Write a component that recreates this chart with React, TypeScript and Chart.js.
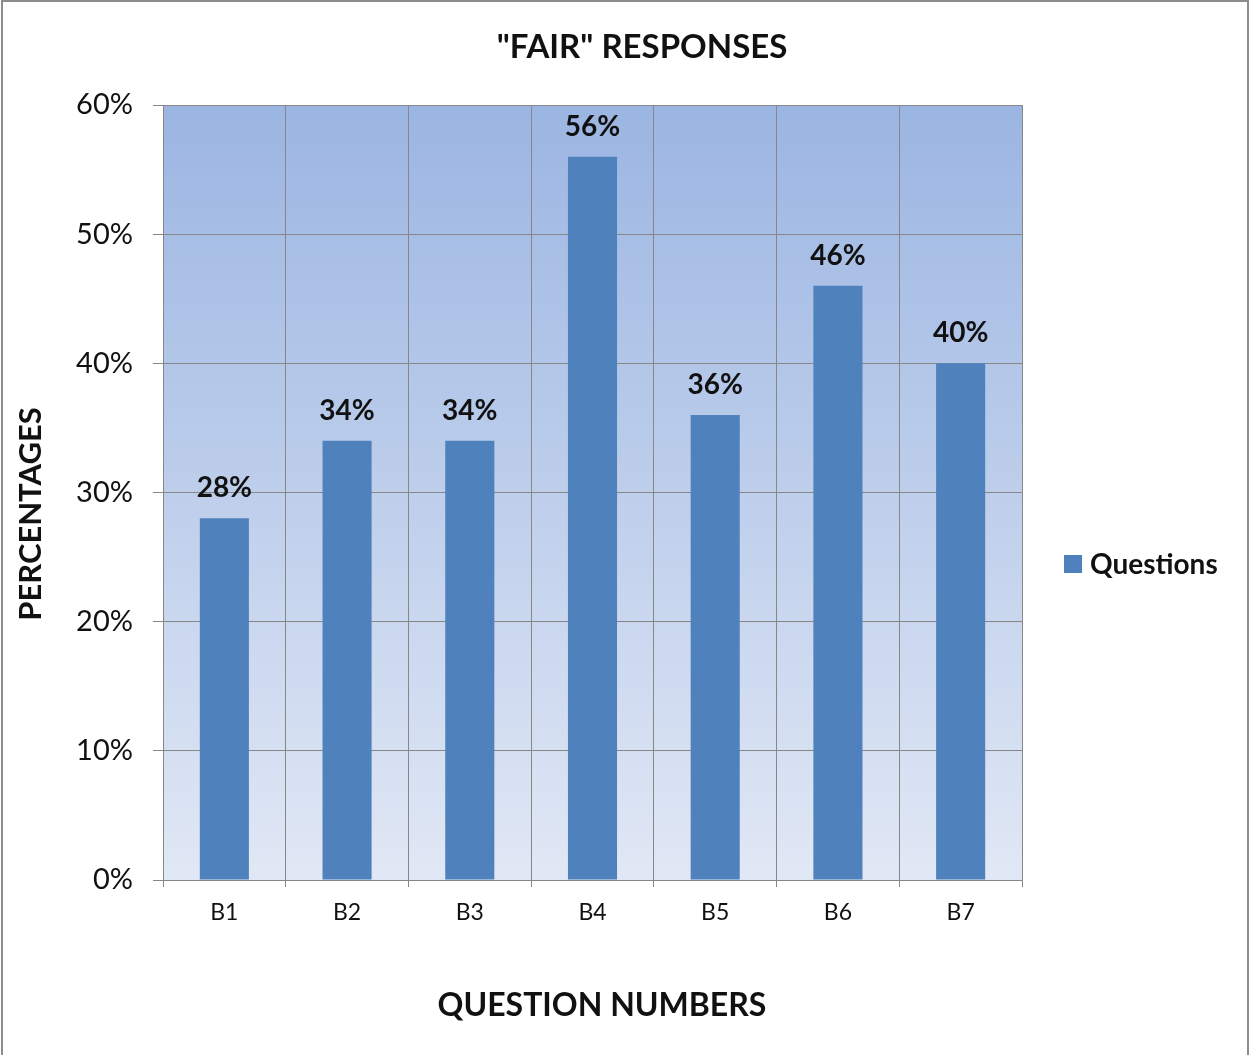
import React, { useEffect, useRef } from "react";
import { Chart, registerables } from "chart.js";

Chart.register(...registerables);

const categories = ["B1", "B2", "B3", "B4", "B5", "B6", "B7"];
const fairPercent = [28, 34, 34, 56, 36, 46, 40];
const seriesName = "Questions";
const chartTitle = '"FAIR" RESPONSES';
const xTitle = "QUESTION NUMBERS";
const yTitle = "PERCENTAGES";

const FONT = "Lato, 'Open Sans', sans-serif";
const BAR = "#4f81bd";
const GRID = "#878787";
const INK = "#111111";

// Gradient plot background, page frame, titles and legend
const decorPlugin = {
  id: "decor",
  beforeDraw(chart: any) {
    const { ctx, chartArea: a, width } = chart;
    ctx.save();
    ctx.fillStyle = "#ffffff";
    ctx.fillRect(0, 0, chart.width, chart.height);
    const g = ctx.createLinearGradient(0, a.top, 0, a.bottom);
    g.addColorStop(0, "#9bb5e2");
    g.addColorStop(1, "#e1e8f5");
    ctx.fillStyle = g;
    ctx.fillRect(a.left, a.top, a.right - a.left, a.bottom - a.top);
    // frame
    ctx.strokeStyle = "#8c8c8c";
    ctx.lineWidth = 2;
    ctx.beginPath();
    ctx.moveTo(2, chart.height);
    ctx.lineTo(2, 1);
    ctx.lineTo(width - 2, 1);
    ctx.lineTo(width - 2, chart.height);
    ctx.stroke();
    ctx.restore();
  },
  afterDraw(chart: any) {
    const { ctx } = chart;
    ctx.save();
    ctx.fillStyle = INK;
    ctx.textAlign = "center";
    ctx.textBaseline = "middle";
    ctx.font = `bold 33px ${FONT}`;
    ctx.fillText(chartTitle, 642, 47);
    ctx.font = `bold 32px ${FONT}`;
    ctx.fillText(xTitle, 602, 1006);
    ctx.save();
    ctx.translate(31, 514);
    ctx.rotate(-Math.PI / 2);
    ctx.font = `bold 31px ${FONT}`;
    ctx.fillText(yTitle, 0, 0);
    ctx.restore();
    // legend
    ctx.fillStyle = BAR;
    ctx.fillRect(1064, 555, 18, 18);
    ctx.fillStyle = INK;
    ctx.textAlign = "left";
    ctx.font = `bold 28px ${FONT}`;
    ctx.fillText(seriesName, 1090, 565);
    ctx.restore();
  },
  afterDatasetsDraw(chart: any) {
    const { ctx } = chart;
    const meta = chart.getDatasetMeta(0);
    const values = chart.data.datasets[0].data as number[];
    ctx.save();
    ctx.fillStyle = INK;
    ctx.textAlign = "center";
    ctx.textBaseline = "middle";
    ctx.font = `bold 28px ${FONT}`;
    meta.data.forEach((el: any, i: number) => {
      ctx.fillText(`${values[i]}%`, el.x, el.y - 30);
    });
    ctx.restore();
  },
};

export default function App() {
  const ref = useRef<HTMLCanvasElement>(null);

  useEffect(() => {
    if (!ref.current) return;
    const chart = new Chart(ref.current, {
      type: "bar",
      data: {
        labels: categories,
        datasets: [
          {
            label: seriesName,
            data: fairPercent,
            backgroundColor: BAR,
            borderWidth: 0,
            categoryPercentage: 1,
            barPercentage: 0.4,
          },
        ],
      },
      options: {
        responsive: false,
        animation: false,
        devicePixelRatio: 1,
        layout: { padding: { top: 105, right: 228, left: 0, bottom: 0 } },
        plugins: {
          legend: { display: false },
          title: { display: false },
          tooltip: { enabled: false },
        },
        scales: {
          x: {
            grid: { color: GRID, lineWidth: 1, tickLength: 7, offset: true },
            border: { display: true, color: GRID, width: 1 },
            ticks: { color: INK, font: { family: FONT, size: 23 }, padding: 12 },
            afterFit: (s: any) => {
              s.height = 175;
            },
          },
          y: {
            min: 0,
            max: 60,
            grid: { color: GRID, lineWidth: 1, tickLength: 10 },
            border: { display: true, color: GRID, width: 1 },
            ticks: {
              stepSize: 10,
              color: INK,
              font: { family: FONT, size: 29 },
              padding: 20,
              callback: (v: any) => `${v}%`,
            },
            afterFit: (s: any) => {
              s.width = 163;
            },
          },
        },
      },
      plugins: [decorPlugin],
    });
    return () => chart.destroy();
  }, []);

  return (
    <div style={{ position: "absolute", left: 0, top: 0, width: 1250, height: 1055 }}>
      <canvas ref={ref} width={1250} height={1055} style={{ display: "block" }} />
    </div>
  );
}
